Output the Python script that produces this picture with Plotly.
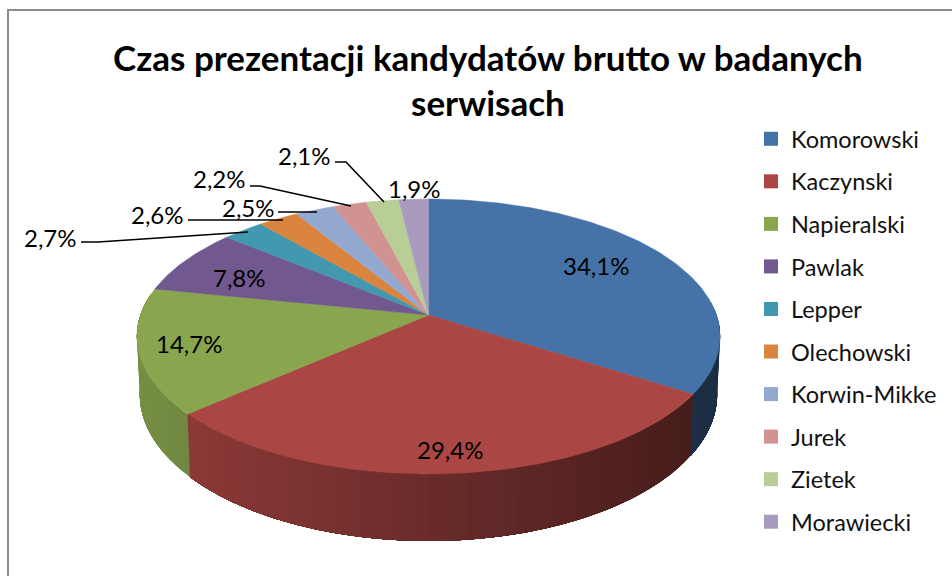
import numpy as np
import plotly.graph_objects as go

categories = ["Komorowski", "Kaczynski", "Napieralski", "Pawlak", "Lepper",
              "Olechowski", "Korwin-Mikke", "Jurek", "Zietek", "Morawiecki"]
values = [34.1, 29.4, 14.7, 7.8, 2.7, 2.6, 2.5, 2.2, 2.1, 1.9]
colors = ["#4572A7", "#AA4643", "#89A54E", "#71588F", "#4198AF",
          "#DB843D", "#93A9CF", "#D19392", "#B9CD96", "#A99BBD"]
title_lines = ["Czas prezentacji kandydatów brutto w badanych", "serwisach"]

W, H = 952, 576
FONT = "Lato"
CX, CY = 428.5, 315    # projected pie centre
RX, RY = 288.0, 134.1  # pie radii before perspective
K = 0.1564             # perspective strength
DEPTH = 56.5           # wall height before perspective


def project(frac):
    """Fraction of the circle (clockwise from 12 o'clock) to top-rim position."""
    t = 2 * np.pi * np.asarray(frac, float)
    u, v = np.sin(t), -np.cos(t)
    d = 1 - K * v
    return CX + RX * u / d, CY + RY * v / d


def project_low(frac):
    t = 2 * np.pi * np.asarray(frac, float)
    u, v = np.sin(t), -np.cos(t)
    d = 1 - K * v
    return CX + 0.99 * RX * u / d, CY + (RY * v + DEPTH) / d


def shade(hex_color, f):
    r, g, b = (int(hex_color[i:i + 2], 16) for i in (1, 3, 5))
    return f"rgb({r * f:.0f},{g * f:.0f},{b * f:.0f})"


total = sum(values)
edges = np.concatenate([[0], np.cumsum(values)]) / total

fig = go.Figure()

# walls: painted back to front, each strip running on to the end of its slice
for i, color in enumerate(colors):
    a, b = max(edges[i], 0.235), min(edges[i + 1], 0.775)
    if b <= a:
        continue
    steps = max(int((b - a) / 0.006), 1)
    for s0 in np.linspace(a, b, steps + 1)[:-1]:
        fr = np.linspace(s0, b, max(int((b - s0) / 0.004), 2))
        xt, yt = project(fr)
        xb, yb = project_low(fr)
        f = 0.82 - (xt[0] - 190) * 0.0008
        col = shade(color, f)
        fig.add_trace(go.Scatter(
            x=np.concatenate([xt, xb[::-1]]), y=np.concatenate([yt, yb[::-1]]),
            mode="none", fill="toself", fillcolor=col,
            hoverinfo="skip", showlegend=False))

# top faces
for i, (name, color) in enumerate(zip(categories, colors)):
    fr = np.linspace(edges[i], edges[i + 1], max(int(values[i] * 4), 8))
    x, y = project(fr)
    fig.add_trace(go.Scatter(
        x=np.concatenate([[CX], x, [CX]]), y=np.concatenate([[CY], y, [CY]]),
        mode="lines", fill="toself", fillcolor=color,
        line=dict(color=color, width=0.5), name=name, text=f"{values[i]}%",
        hoverinfo="text+name", showlegend=False))

# legend entries
for name, color in zip(categories, colors):
    fig.add_trace(go.Scatter(
        x=[None], y=[None], mode="markers", name=name, legendgroup=name,
        marker=dict(symbol="square", size=14, color=color)))

label_pos = {  # label centre (px) per slice
    0: (596, 265), 1: (450, 449), 2: (189, 343), 3: (239, 277),
    4: (50, 237), 5: (157, 214), 6: (248, 207), 7: (219, 178),
    8: (304, 155), 9: (414, 188),
}
leaders = {
    4: ([81, 98, 248], [242, 242, 232]),
    5: ([188, 283], [220, 220]),
    6: ([278, 317], [212, 212]),
    7: ([250, 260, 351], [186, 186, 206]),
    8: ([335, 346, 384], [162, 162, 202]),
}
annotations = []
for i, v in enumerate(values):
    x, y = label_pos[i]
    annotations.append(dict(x=x, y=y, xref="x", yref="y", showarrow=False,
                            text=f"{v:.1f}".replace(".", ",") + "%",
                            font=dict(family=FONT, size=24, color="#000000")))
for lx, ly in leaders.values():
    fig.add_trace(go.Scatter(x=lx, y=ly, mode="lines", showlegend=False,
                             hoverinfo="skip", line=dict(color="#000000", width=1.6)))

for line, y in zip(title_lines, (57, 102)):
    annotations.append(dict(x=488, y=y, xref="x", yref="y", showarrow=False,
                            text=f"<b>{line}</b>",
                            font=dict(family=FONT, size=35, color="#000000")))

shapes = [dict(type="rect", xref="x", yref="y", x0=8, y0=10, x1=W + 20, y1=H + 20,
               line=dict(color="#8c8c8c", width=2), fillcolor="rgba(0,0,0,0)", layer="below")]

fig.update_layout(
    width=W, height=H, margin=dict(l=0, r=0, t=0, b=0, pad=0),
    paper_bgcolor="#FFFFFF", plot_bgcolor="#FFFFFF",
    xaxis=dict(range=[0, W], visible=False, fixedrange=True),
    yaxis=dict(range=[H, 0], visible=False, fixedrange=True),
    legend=dict(x=751 / W, y=1 - 117 / H, yanchor="top", xanchor="left",
                font=dict(family=FONT, size=23.5, color="#111111"),
                itemwidth=30, tracegroupgap=9, bgcolor="rgba(0,0,0,0)"),
    annotations=annotations, shapes=shapes, showlegend=True,
)
fig.write_html("out.html", config={"displayModeBar": False},
               post_script="document.body.style.margin='0';document.body.style.overflow='hidden';")
